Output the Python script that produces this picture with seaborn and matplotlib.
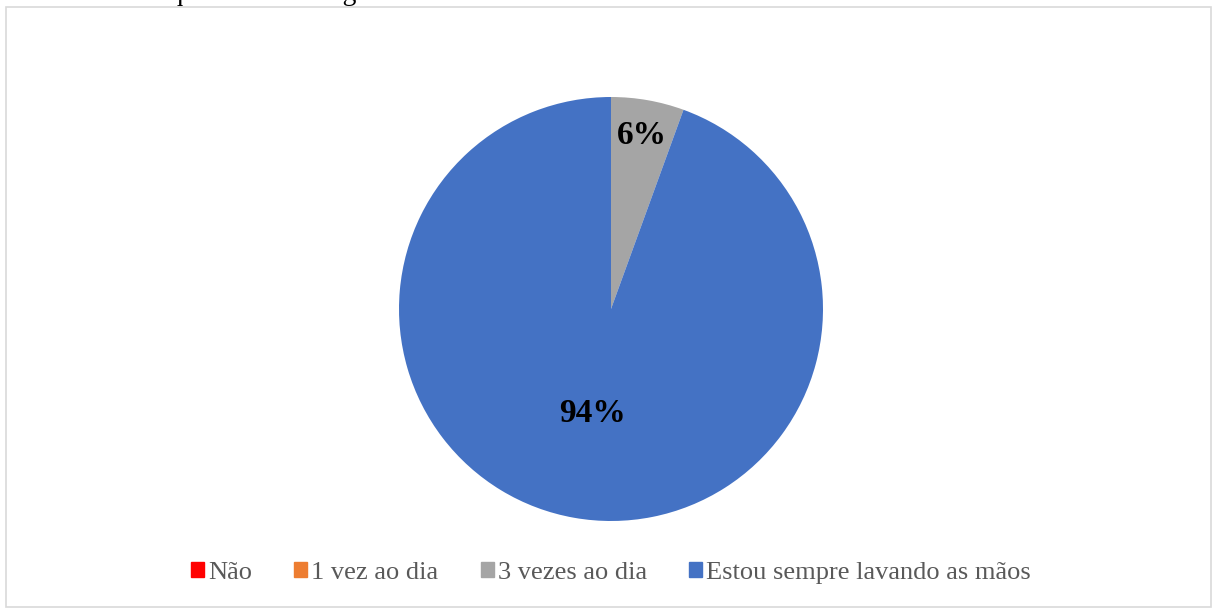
import numpy as np
import matplotlib
matplotlib.use("Agg")
import matplotlib.pyplot as plt
import seaborn as sns

categories = ["Não", "1 vez ao dia", "3 vezes ao dia", "Estou sempre lavando as mãos"]
counts = [0, 0, 1, 17]
colors = ["#FF0000", "#ED7D31", "#A5A5A5", "#4472C4"]
label_dist = [0.8, 0.8, 0.83, 0.5]
title = "Gráfico 4: Frequência da lavagem das mãos."

sns.set_theme(style="white")
plt.rcParams["font.family"] = ["Liberation Serif", "DejaVu Serif"]

fig = plt.figure(figsize=(12.14, 6.08), dpi=100)
ax = fig.add_axes([0, 0, 1, 1])
ax.set_xlim(0, 1214)
ax.set_ylim(608, 0)
ax.axis("off")

# chart frame
ax.add_patch(plt.Rectangle((6, 7), 1205, 600, fill=False, edgecolor="#D9D9D9", lw=1.2))

# caption sitting just above the frame
fig.text(12 / 1214, 1 - 0.5 / 608, title, fontsize=20, color="black",
         ha="left", va="baseline")

pax = fig.add_axes([(611 - 212) / 1214, 1 - (309 + 212) / 608, 424 / 1214, 424 / 608])
wedges, _ = pax.pie(counts, colors=colors, startangle=90, counterclock=False,
                    radius=1.0, wedgeprops=dict(linewidth=0))
pax.set_xlim(-1, 1)
pax.set_ylim(-1, 1)
pax.set_aspect("equal")

total = sum(counts)
for w, v, d in zip(wedges, counts, label_dist):
    if v == 0:
        continue
    ang = np.deg2rad((w.theta1 + w.theta2) / 2)
    pax.text(d * np.cos(ang), d * np.sin(ang), f"{round(100 * v / total)}%",
             ha="center", va="center", fontsize=24, fontweight="bold", color="black")

handles = [plt.Rectangle((0, 0), 1, 1, color=c) for c in colors]
fig.legend(handles, categories, loc="center", bbox_to_anchor=(611 / 1214, 1 - 573 / 608),
           ncol=4, frameon=False, fontsize=19, handlelength=0.5, handleheight=0.5,
           handletextpad=0.15, columnspacing=1.6, labelcolor="#595959")

fig.savefig("out.png", dpi=100)
